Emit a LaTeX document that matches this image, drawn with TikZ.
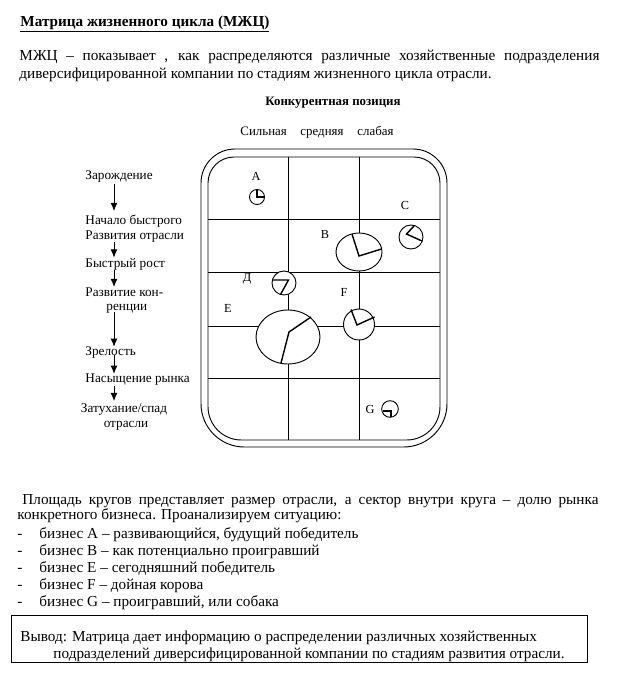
\documentclass[tikz,border=0pt]{standalone}
\usepackage{fontspec}
\setmainfont{Liberation Serif}
\usetikzlibrary{arrows.meta}

\tikzset{
  stage/.style={inner sep=0pt, font=\fontsize{11.3}{12.5}\selectfont},
  arr/.style={-{Latex[length=7pt,width=6pt]}, line width=0.8pt},
  letter/.style={inner sep=0pt, font=\fontsize{10.5}{12}\selectfont},
  pie/.style={draw, fill=white, line width=0.8pt},
  cut/.style={line width=1.2pt},
  txt/.style={inner sep=0pt, anchor=base west},
}

\begin{document}
\begin{tikzpicture}[x=0.03cm, y=-0.03cm, line width=0.8pt, font=\fontsize{13}{15.3}\selectfont]
  \useasboundingbox (0,0) rectangle (621,673);

  % heading and intro
  \node[txt, font=\bfseries\fontsize{13}{15}\selectfont] (title) at (20,26.5)
    {\underline{Матрица жизненного цикла (МЖЦ)}};
  \node[anchor=north west, inner sep=0pt, text width=17.4cm, align=justify] (intro) at (19,50)
    {МЖЦ – показывает , как распределяются различные хозяйственные подразделения диверсифицированной компании по стадиям жизненного цикла отрасли.};

  % column heads
  \node[inner sep=0pt, font=\bfseries\fontsize{11}{13}\selectfont] (pos) at (333,103) {Конкурентная позиция};
  \node[txt, font=\fontsize{11}{13}\selectfont] (strong) at (240,135) {Сильная};
  \node[txt, font=\fontsize{11}{13}\selectfont] (middle) at (300,135) {средняя};
  \node[txt, font=\fontsize{11}{13}\selectfont] (weak) at (357,135) {слабая};

  % frame and grid
  \draw (201,300) [rounded corners=1.02cm] -- (201,149) -- (447,149)
    [rounded corners=1.3cm] -- (447,447) -- (201,447) -- cycle;
  \draw (208,300) [rounded corners=0.78cm] -- (208,157) -- (440,157)
    [rounded corners=1.0cm] -- (440,440) -- (208,440) -- cycle;
  \foreach \gx in {288,359} \draw (\gx,157) -- (\gx,440);
  \foreach \gy in {219,272,326,378} \draw (208,\gy) -- (440,\gy);

  % businesses
  \draw[pie] (257,197) circle[radius=7.5];
  \draw[cut] (257,189.5) -- (257,197) -- (264.5,197);
  \draw[pie] (359,252) ellipse[x radius=23, y radius=19];
  \draw[cut] (352,234) -- (359,256) -- (381.5,249);
  \draw[pie] (411,237) circle[radius=12];
  \draw[cut] (414,226) -- (406.5,234) -- (422,241);
  \draw[pie] (284,283) circle[radius=12];
  \draw[cut] (273,280) -- (288.5,280) -- (280.5,294.5);
  \draw[pie] (288,337) ellipse[x radius=32, y radius=27];
  \draw[cut] (311,317) -- (289,332) -- (281,363);
  \draw[pie] (359,324.5) circle[radius=15.5];
  \draw[cut] (351,309.5) -- (357,325) -- (374.5,317);
  \draw[pie] (390,409) circle[radius=8.3];
  \draw[cut] (383,411) -- (391,411) -- (391,416.5);

  \node[letter] (labA) at (256,176) {A};
  \node[letter] (labB) at (325,234) {B};
  \node[letter] (labC) at (405,205.5) {C};
  \node[letter] (labD) at (247,279) {Д};
  \node[letter] (labE) at (228,308) {E};
  \node[letter] (labF) at (344,292) {F};
  \node[letter] (labG) at (370,409) {G};

  % life cycle stages
  \coordinate (axis) at (114,0);
  \node[stage, anchor=west] (zar) at (85,177) {Зарождение};
  \node[stage, anchor=west, align=left] (nachalo) at (85,228.5) {Начало быстрого\\Развития отрасли};
  \node[stage, anchor=west] (bystr) at (85,264) {Быстрый рост};
  \node[stage, anchor=west, align=left] (konk) at (85,300.5) {Развитие кон-\\\hspace*{6.3mm}ренции};
  \node[stage, anchor=west] (zrel) at (85,353) {Зрелость};
  \node[stage, anchor=west] (nasysh) at (85,380) {Насыщение рынка};
  \node[stage, align=center] (zatuh) at (124,417) {Затухание/спад\\\hspace*{1.2mm}отрасли};

  \draw[arr, shorten <=1pt, shorten >=3pt] (zar.south -| axis) -- (nachalo.north -| axis);
  \draw[arr] (nachalo.south -| axis) -- (bystr.north -| axis);
  \draw[arr] (bystr.south -| axis) -- (konk.north -| axis);
  \draw[arr, shorten <=-2pt] (konk.south -| axis) -- (zrel.north -| axis);
  \draw[arr, shorten <=-3.5pt] (zrel.south -| axis) -- (nasysh.north -| axis);
  \draw[arr, shorten >=2pt] (nasysh.south -| axis) -- (zatuh.north -| axis);

  % explanation
  \node[anchor=north west, inner sep=0pt, text width=17.43cm, align=justify,
    font=\fontsize{13}{12.75}\selectfont] (area) at (17,494.5)
    {\hspace*{1.5mm}Площадь кругов представляет размер отрасли, а сектор внутри круга – долю рынка\linebreak конкретного бизнеса. Проанализируем ситуацию:};
  \foreach \bline [count=\i] in {{бизнес А – развивающийся, будущий победитель},
      {бизнес В – как потенциально проигравший}, {бизнес Е – сегодняшний победитель},
      {бизнес F – дойная корова}, {бизнес G – проигравший, или собака}} {
    \node[txt] (dash\i) at (17,{521+17*\i}) {-};
    \node[txt] (item\i) at (39,{521+17*\i}) {\bline};
  }

  % conclusion
  \draw (11,615) rectangle (587,662);
  \node[txt] (vyvod) at (20,641) {Вывод: Матрица дает информацию о распределении различных хозяйственных};
  \node[txt] (vyvod2) at (53,658) {подразделений диверсифицированной компании по стадиям развития отрасли.};
\end{tikzpicture}
\end{document}
